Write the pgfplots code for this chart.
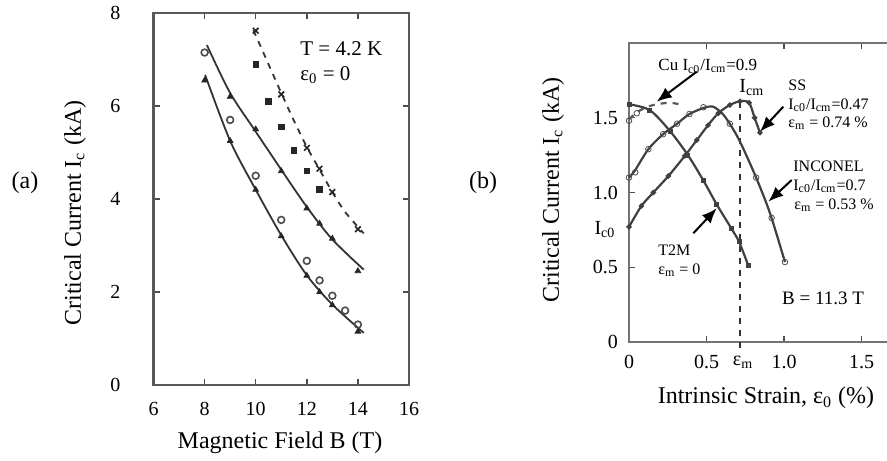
\documentclass[border=0pt]{standalone}
\usepackage{pgfplots}
\pgfplotsset{compat=1.18}
\usepackage{fontspec}
\setmainfont{Liberation Serif}
\usetikzlibrary{arrows.meta}

\newcommand{\fs}[1]{\fontsize{#1}{#1}\selectfont}

\begin{document}
\begin{tikzpicture}
  % page = 887 x 460 px, 1 px = 0.5 pt
  \path[use as bounding box, clip] (0pt,0pt) rectangle (443.5pt,230pt);

  % (a) Ic vs B
  \begin{axis}[
      at={(76.75pt,37.5pt)}, anchor=south west,
      scale only axis, width=127.75pt, height=186pt,
      xmin=6, xmax=16, ymin=0, ymax=8,
      xtick={6,8,...,16}, ytick={0,2,...,8},
      axis line style={black!65, line width=1.2pt},
      major tick length=3pt,
      tick style={black!70, line width=0.7pt},
      tick label style={font=\fs{10}},
      /pgf/number format/assume math mode=true,
      yticklabel style={xshift=-13pt},
      xticklabel style={yshift=-5pt},
      clip=false,
    ]
    % fitted curves
    \addplot[black!80, dashed, line width=0.9pt, smooth] coordinates
      {(9.91,7.63) (10.5,6.9) (11,6.28) (11.5,5.68) (12,5.12) (12.5,4.63) (13,4.15) (13.5,3.72) (14.23,3.26)};
    \addplot[black!80, line width=0.9pt, smooth] coordinates
      {(8.09,7.31) (9,6.28) (10,5.45) (11,4.63) (12,3.83) (13,3.13) (14.23,2.48)};
    \addplot[black!80, line width=0.9pt, smooth] coordinates
      {(8.02,6.67) (9,5.25) (10,4.2) (11,3.22) (12,2.36) (13,1.73) (14.23,1.12)};
    % measured points
    \addplot[only marks, mark=x, mark size=2pt, black!85, thick] coordinates
      {(10,7.62) (11,6.25) (12,5.1) (12.5,4.65) (13,4.15) (14,3.35)};
    \addplot[only marks, mark=square*, mark size=1.4pt, black!85] coordinates
      {(10,6.9) (10.5,6.1) (11,5.55) (11.5,5.05) (12,4.6) (12.5,4.2)};
    \addplot[only marks, mark=triangle*, mark size=1.6pt, black!85] coordinates
      {(9,6.2) (10,5.5) (11,4.6) (12,3.8) (12.5,3.47) (13,3.15) (14,2.45)};
    \addplot[only marks, mark=triangle*, mark size=1.6pt, black!85] coordinates
      {(8,6.55) (9,5.25) (10,4.2) (11,3.2) (12,2.35) (12.5,2.0) (13,1.72) (14,1.15)};
    \addplot[only marks, mark=o, mark size=1.7pt, black!70, thick] coordinates
      {(8,7.15) (9,5.7) (10,4.5) (11,3.55) (12,2.67) (12.5,2.25) (13,1.92) (13.5,1.6) (14,1.3)};
  \end{axis}

  \node[inner sep=0, font=\fs{12}] at (12.5pt,138.5pt) {(a)};
  \node[inner sep=0, rotate=90, font=\fs{12}] at (37.5pt,123.5pt) {Critical Current I\textsubscript{c} (kA)};
  \node[inner sep=0, font=\fs{12}] at (140pt,8.5pt) {Magnetic Field B (T)};
  \node[inner sep=0, anchor=west, font=\fs{10.5}] at (150pt,205.5pt) {T = 4.2 K};
  \node[inner sep=0, anchor=west, font=\fs{10.5}] at (150pt,192.5pt) {ε\textsubscript{0} = 0};

  % (b) Ic vs intrinsic strain
  \begin{axis}[
      at={(314.5pt,59pt)}, anchor=south west,
      scale only axis, width=155pt, height=149.5pt,
      xmin=0, xmax=2, ymin=0, ymax=2,
      xtick={0,0.5,1,1.5}, xticklabels={0,0.5,1.0,1.5},
      ytick={0,0.5,1,1.5}, yticklabels={0,0.5,1.0,1.5},
      axis line style={black!55, line width=1.3pt},
      major tick length=3pt,
      tick style={black!70, line width=0.7pt},
      tick label style={font=\fs{10}},
      /pgf/number format/assume math mode=true,
      yticklabel style={xshift=-2pt},
      xticklabel style={yshift=-3pt},
      clip=false,
    ]
    % epsilon_m marker line
    \addplot[black!80, dashed, line width=0.9pt] coordinates {(0.716,-0.04) (0.716,1.63)};
    % Cu
    \addplot[black!65, dashed, line width=1.1pt, smooth] coordinates
      {(0,1.49) (0.05,1.535) (0.11,1.57) (0.18,1.59) (0.265,1.60) (0.35,1.585)};
    \addplot[only marks, mark=o, mark size=1.4pt, black!70] coordinates {(0,1.48) (0.05,1.53)};
    % T2M
    \addplot[black!75, line width=1.1pt, smooth, mark=square*, mark size=0.7pt] coordinates
      {(0,1.59) (0.135,1.55) (0.265,1.41) (0.38,1.25) (0.48,1.08) (0.566,0.92) (0.66,0.76) (0.71,0.67) (0.77,0.51)};
    % SS
    \addplot[black!75, line width=1.1pt, smooth, mark=*, mark size=0.7pt] coordinates
      {(0,0.77) (0.08,0.91) (0.157,1.0) (0.254,1.11) (0.36,1.245) (0.437,1.35) (0.51,1.45) (0.576,1.53) (0.65,1.585) (0.716,1.61) (0.775,1.60) (0.81,1.50) (0.845,1.40)};
    % INCONEL
    \addplot[black!75, line width=1.1pt, smooth] coordinates
      {(0,1.10) (0.04,1.15) (0.125,1.29) (0.22,1.39) (0.31,1.46) (0.39,1.525) (0.48,1.565) (0.54,1.575) (0.60,1.53) (0.65,1.46) (0.716,1.34) (0.82,1.10) (0.91,0.86) (1.006,0.535)};
    \addplot[only marks, mark=o, mark size=1.4pt, black!70] coordinates
      {(0,1.10) (0.04,1.135) (0.125,1.29) (0.22,1.39) (0.31,1.46) (0.39,1.525) (0.48,1.57) (0.65,1.46) (0.82,1.10) (0.92,0.83) (1.006,0.535)};
  \end{axis}

  \node[inner sep=0, font=\fs{12}] at (241.5pt,138.5pt) {(b)};
  \node[inner sep=0, rotate=90, font=\fs{12}] at (276.5pt,135pt) {Critical Current I\textsubscript{c} (kA)};
  \node[inner sep=0, font=\fs{12}] at (383pt,31pt) {Intrinsic Strain, ε\textsubscript{0} (\%)};
  \node[inner sep=0, font=\fs{10}] at (302.5pt,115pt) {I\textsubscript{c0}};
  \node[inner sep=0, font=\fs{10}] at (371.5pt,49pt) {ε\textsubscript{m}};
  \node[inner sep=0, anchor=west, font=\fs{10}] at (369.5pt,186pt) {I\textsubscript{cm}};
  \node[inner sep=0, anchor=west, font=\fs{8.5}] at (329pt,196.7pt) {Cu I\textsubscript{c0}/I\textsubscript{cm}=0.9};
  \node[inner sep=0, anchor=west, font=\fs{8}] at (394pt,187.5pt) {SS};
  \node[inner sep=0, anchor=west, font=\fs{8}] at (394pt,177.5pt) {I\textsubscript{c0}/I\textsubscript{cm}=0.47};
  \node[inner sep=0, anchor=west, font=\fs{8}] at (394pt,168.5pt) {ε\textsubscript{m} = 0.74 \%};
  \node[inner sep=0, anchor=west, font=\fs{8}] at (396.5pt,146.7pt) {INCONEL};
  \node[inner sep=0, anchor=west, font=\fs{8}] at (396.5pt,137pt) {I\textsubscript{c0}/I\textsubscript{cm}=0.7};
  \node[inner sep=0, anchor=west, font=\fs{8}] at (397pt,127.5pt) {ε\textsubscript{m} = 0.53 \%};
  \node[inner sep=0, anchor=west, font=\fs{8}] at (329pt,105pt) {T2M};
  \node[inner sep=0, anchor=west, font=\fs{8}] at (329pt,95pt) {ε\textsubscript{m} = 0};
  \node[inner sep=0, font=\fs{9.5}] at (411.5pt,81pt) {B = 11.3 T};

  \begin{scope}[line width=1pt, -{Latex[length=7.5pt, width=6pt]}]
    \draw (348.35pt,194.15pt) -- (328.35pt,179.15pt);
    \draw (391.65pt,176.65pt) -- (380pt,164.15pt);
    \draw (395.85pt,140pt) -- (384.15pt,129.15pt);
    \draw (346.65pt,113.35pt) -- (358.35pt,125.85pt);
  \end{scope}
\end{tikzpicture}
\end{document}
